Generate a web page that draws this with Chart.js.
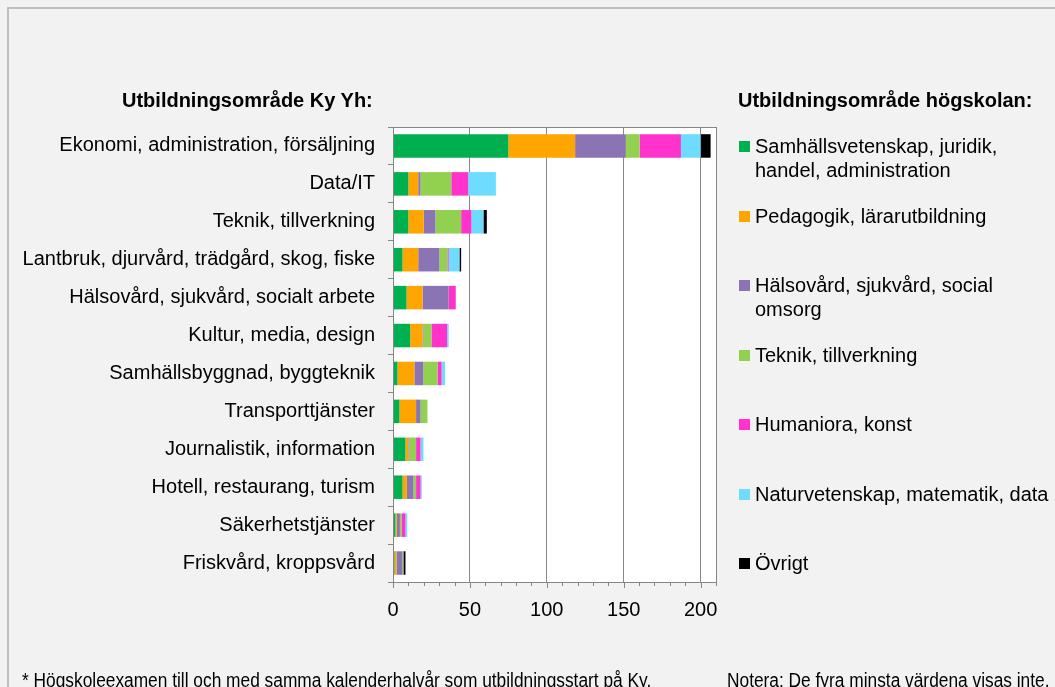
<!DOCTYPE html>
<html>
<head>
<meta charset="utf-8">
<script src="https://cdn.jsdelivr.net/npm/chart.js@4/dist/chart.umd.min.js"></script>
<style>
  html, body { margin:0; padding:0; background:#f2f2f2; }
  body { width:1055px; height:687px; position:relative; overflow:hidden; font-family:"Liberation Sans", Arial, sans-serif; color:#000; }
  #frame { position:absolute; left:7px; top:7px; width:1060px; height:700px; border:2px solid #bfbfbf; box-sizing:border-box; }
  #wrap { position:absolute; left:0; top:0; width:1055px; height:687px; }
  .ttl { position:absolute; font-weight:bold; font-size:20px; line-height:24px; white-space:nowrap; }
  .leg { position:absolute; left:739px; font-size:20px; line-height:24px; }
  .leg .sw { position:absolute; left:0; top:7px; width:11px; height:11px; }
  .leg .tx { position:absolute; left:16px; top:0; white-space:nowrap; }
  .note { position:absolute; font-size:20px; line-height:24px; white-space:nowrap; top:668px; transform:scaleX(0.866); transform-origin:0 50%; }
</style>
</head>
<body>
<div id="frame"></div>
<div id="wrap"><canvas id="c" width="1055" height="687"></canvas></div>
<div class="ttl" style="left:122px; top:88px;">Utbildningsområde Ky Yh:</div>
<div class="ttl" style="left:738px; top:88px;">Utbildningsområde högskolan:</div>
<div id="legend"></div>
<div class="note" style="left:22px;">* Högskoleexamen till och med samma kalenderhalvår som utbildningsstart på Ky.</div>
<div class="note" style="left:727px;">Notera: De fyra minsta värdena visas inte.</div>
<script>
const categories = [
  "Ekonomi, administration, försäljning",
  "Data/IT",
  "Teknik, tillverkning",
  "Lantbruk, djurvård, trädgård, skog, fiske",
  "Hälsovård, sjukvård, socialt arbete",
  "Kultur, media, design",
  "Samhällsbyggnad, byggteknik",
  "Transporttjänster",
  "Journalistik, information",
  "Hotell, restaurang, turism",
  "Säkerhetstjänster",
  "Friskvård, kroppsvård"
];
const seriesNames = [
  ["Samhällsvetenskap, juridik,", "handel, administration"],
  ["Pedagogik, lärarutbildning"],
  ["Hälsovård, sjukvård, social", "omsorg"],
  ["Teknik, tillverkning"],
  ["Humaniora, konst"],
  ["Naturvetenskap, matematik,  data"],
  ["Övrigt"]
];
const seriesColors = ["#00b050", "#ffa500", "#8b74b4", "#92d050", "#ff33cc", "#6ddcff", "#000000"];
const samhallsvetenskap = [75, 10, 10, 6.2, 8.8, 11.2, 2.9, 4.2, 8.1, 6.2, 1.6, 1.0];
const pedagogik        = [43.4, 6.4, 10, 10.2, 10.4, 8, 11, 10.8, 1.9, 2.8, 0.9, 1.3];
const halsovard        = [33, 1.5, 7.6, 13.8, 17, 0.6, 5.8, 2.9, 0.7, 4.3, 2, 3.9];
const teknik           = [9, 20, 16.7, 5.2, 0, 5.2, 9.3, 4.5, 4.3, 1.7, 1, 0.6];
const humaniora        = [26.8, 11, 6.7, 0.8, 4.6, 10.2, 2.6, 0, 2.9, 2.9, 2.6, 0];
const naturvetenskap   = [12.8, 18, 7.8, 7, 0, 1, 2.2, 0, 1.9, 0.8, 1.2, 0];
const ovrigt           = [6.5, 0, 2.2, 1.1, 0, 0, 0, 0, 0, 0, 0, 1.3];
const seriesValues = [samhallsvetenskap, pedagogik, halsovard, teknik, humaniora, naturvetenskap, ovrigt];
const xTickValues = [0, 50, 100, 150, 200];
const xMax = 210, xMinorStep = 10;

// HTML legend
const legendEl = document.getElementById('legend');
seriesNames.forEach((lines, i) => {
  const d = document.createElement('div');
  d.className = 'leg';
  d.style.top = (134 + i * 69.5) + 'px';
  d.innerHTML = '<div class="sw" style="background:' + seriesColors[i] + '"></div><div class="tx">' + lines.join('<br>') + '</div>';
  legendEl.appendChild(d);
});

const plotBox = {
  id: 'plotBox',
  beforeDraw(chart) {
    const a = chart.chartArea, ctx = chart.ctx;
    ctx.save();
    ctx.fillStyle = '#ffffff';
    ctx.fillRect(a.left, a.top, a.right - a.left, a.bottom - a.top);
    ctx.restore();
  },
  afterDraw(chart) {
    const a = chart.chartArea, ctx = chart.ctx, xs = chart.scales.x;
    ctx.save();
    ctx.strokeStyle = '#868686';
    ctx.lineWidth = 1;
    ctx.strokeRect(Math.round(a.left) + 0.5, Math.round(a.top) + 0.5, Math.round(a.right - a.left), Math.round(a.bottom - a.top));
    ctx.beginPath();
    for (let v = 0; v <= xMax; v += xMinorStep) {
      const x = Math.round(xs.getPixelForValue(v)) + 0.5;
      const len = (v % 50 === 0) ? 6 : 4;
      ctx.moveTo(x, Math.round(a.bottom));
      ctx.lineTo(x, Math.round(a.bottom) + len);
    }
    ctx.stroke();
    ctx.restore();
  }
};

new Chart(document.getElementById('c'), {
  type: 'bar',
  data: {
    labels: categories,
    datasets: seriesValues.map((vals, i) => ({
      label: seriesNames[i].join(' '),
      data: vals,
      backgroundColor: seriesColors[i],
      borderWidth: 0,
      barPercentage: 0.62,
      categoryPercentage: 1
    }))
  },
  options: {
    indexAxis: 'y',
    responsive: false,
    animation: false,
    layout: { padding: { left: 0, right: 339, top: 127, bottom: 65 } },
    plugins: { legend: { display: false }, tooltip: { enabled: false } },
    scales: {
      x: {
        stacked: true,
        min: 0, max: xMax,
        afterBuildTicks(s) { s.ticks = xTickValues.map(v => ({ value: v })); },
        ticks: { color: '#000', font: { family: 'Liberation Sans', size: 20 }, padding: 8, maxRotation: 0, autoSkip: false },
        grid: {
          color: c => (c.tick && c.tick.value > 0 && c.tick.value < xMax) ? '#888888' : 'rgba(0,0,0,0)',
          tickColor: 'rgba(0,0,0,0)',
          tickLength: 8,
          lineWidth: 1
        },
        border: { display: false },
        afterFit(s) { s.height = 40; }
      },
      y: {
        stacked: true,
        ticks: { color: '#000', font: { family: 'Liberation Sans', size: 20 }, padding: 13, autoSkip: false },
        grid: { drawOnChartArea: false, tickLength: 5, tickColor: '#888888', offset: true },
        border: { color: '#868686' },
        afterFit(s) { s.width = 393; }
      }
    }
  },
  plugins: [plotBox]
});
</script>
</body>
</html>
